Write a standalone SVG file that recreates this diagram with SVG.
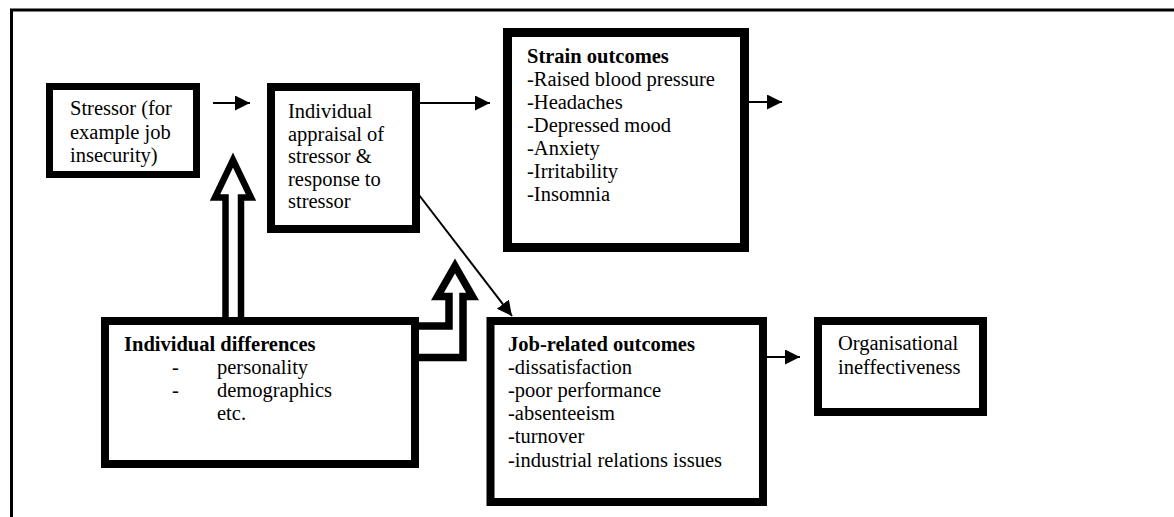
<svg xmlns="http://www.w3.org/2000/svg" width="1174" height="517" viewBox="0 0 1174 517">
<defs>
<style>
.box{fill:#fff;stroke:#000}
.t{font-family:"Liberation Serif","Times New Roman",serif;font-size:20.5px;fill:#000}
.b{font-weight:bold}
.ln{stroke:#000;stroke-width:2;fill:none}
.hollow{fill:#fff;stroke:#000;stroke-linejoin:miter;stroke-miterlimit:10}
</style>
<marker id="ah" markerUnits="userSpaceOnUse" markerWidth="16" markerHeight="16" refX="15" refY="7.5" orient="auto">
<path d="M0,0 L15,7.5 L0,15 z" fill="#000"/>
</marker>
</defs>
<rect x="0" y="0" width="1174" height="517" fill="#fff"/>
<path d="M11.5,517 L11.5,10 L1174,10" fill="none" stroke="#000" stroke-width="3"/>

<g id="connectors">
<line class="ln" x1="213" y1="103" x2="250" y2="103" stroke-width="2.5" marker-end="url(#ah)"/>
<line class="ln" x1="420" y1="103" x2="490" y2="103" marker-end="url(#ah)"/>
<line class="ln" x1="749" y1="102" x2="782" y2="102" marker-end="url(#ah)"/>
<line class="ln" x1="767" y1="357" x2="800" y2="357" marker-end="url(#ah)"/>
<line class="ln" x1="419" y1="195" x2="512" y2="316" marker-end="url(#ah)"/>
<path class="hollow" stroke-width="6.5" d="M225.5,321 L225.5,197.5 L215,197.5 L233,160 L251,197.5 L241,197.5 L241,321"/>
<path class="hollow" stroke-width="7.5" d="M416,326 L449,326 L449,296.5 L437.5,296.5 L455,266 L472.5,296.5 L463,296.5 L463,357.5 L416,357.5"/>
</g>

<g id="stressor">
<rect class="box" x="49.5" y="86.5" width="147" height="88" stroke-width="7"/>
<text class="t" x="70" y="115">Stressor (for</text>
<text class="t" x="70" y="138.5">example job</text>
<text class="t" x="70" y="162">insecurity)</text>
</g>

<g id="appraisal">
<rect class="box" x="271" y="87" width="145" height="142" stroke-width="8"/>
<text class="t" x="288" y="118">Individual</text>
<text class="t" x="288" y="140.5">appraisal of</text>
<text class="t" x="288" y="163">stressor &amp;</text>
<text class="t" x="288" y="185.5">response to</text>
<text class="t" x="288" y="208">stressor</text>
</g>

<g id="strain">
<rect class="box" x="507.5" y="32.5" width="237" height="215" stroke-width="9"/>
<text class="t b" x="527" y="63">Strain outcomes</text>
<text class="t" x="527" y="86">-Raised blood pressure</text>
<text class="t" x="527" y="109">-Headaches</text>
<text class="t" x="527" y="132">-Depressed mood</text>
<text class="t" x="527" y="155">-Anxiety</text>
<text class="t" x="527" y="178">-Irritability</text>
<text class="t" x="527" y="201">-Insomnia</text>
</g>

<g id="individual-differences">
<rect class="box" x="105" y="321" width="310" height="143" stroke-width="8"/>
<text class="t b" x="124" y="351">Individual differences</text>
<text class="t" x="172" y="374">-</text>
<text class="t" x="217" y="374">personality</text>
<text class="t" x="172" y="397">-</text>
<text class="t" x="217" y="397">demographics</text>
<text class="t" x="217" y="420">etc.</text>
</g>

<g id="job-related">
<rect class="box" x="490.5" y="321" width="272.5" height="181" stroke-width="8"/>
<text class="t b" x="508" y="350.5">Job-related outcomes</text>
<text class="t" x="508" y="374">-dissatisfaction</text>
<text class="t" x="508" y="397">-poor performance</text>
<text class="t" x="508" y="420">-absenteeism</text>
<text class="t" x="508" y="443">-turnover</text>
<text class="t" x="508" y="466.5">-industrial relations issues</text>
</g>

<g id="organisational">
<rect class="box" x="818" y="321" width="165" height="91" stroke-width="8"/>
<text class="t" x="838" y="350">Organisational</text>
<text class="t" x="838" y="374">ineffectiveness</text>
</g>
</svg>
